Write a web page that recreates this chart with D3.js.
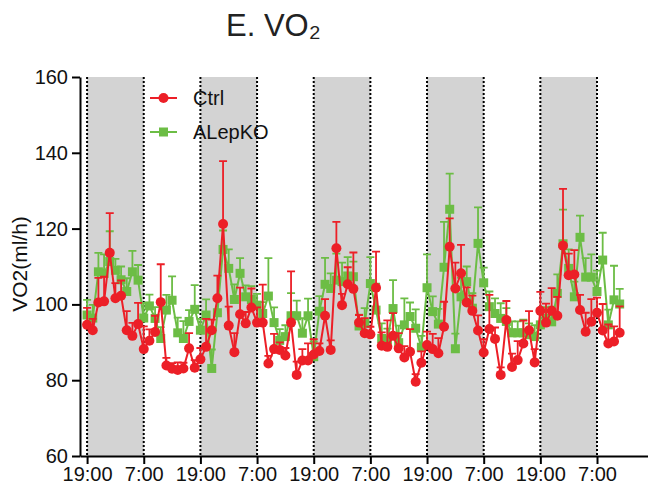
<!DOCTYPE html>
<html>
<head>
<meta charset="utf-8">
<script src="https://cdn.jsdelivr.net/npm/d3@7"></script>
<style>
  body { margin: 0; background: #fff; }
  svg { display: block; font-family: "Liberation Sans", Arial, sans-serif; }
</style>
</head>
<body>
<div id="chart"></div>
<script>
// samples every 1.2 h, index 0 = first 19:00
const ctrlMean = [94.6, 93.2, 100.5, 100.8, 113.6, 101.6, 102.3, 93.2, 91.7, 94.8,
  88.2, 90.4, 92.7, 100.6, 83.9, 83.0, 82.7, 83.1, 88.4, 83.3,
  85.5, 88.8, 93.2, 101.6, 121.2, 94.4, 87.4, 97.4, 95.0, 99.2,
  95.2, 95.2, 84.4, 88.2, 88.0, 86.5, 95.2, 81.4, 85.2, 85.2,
  86.8, 87.7, 97.0, 88.0, 114.8, 99.8, 105.3, 104.1, 95.2, 92.4,
  92.1, 104.4, 89.1, 88.8, 91.7, 88.4, 86.0, 87.5, 79.6, 84.6,
  89.3, 88.2, 87.1, 94.1, 115.2, 104.2, 108.2, 100.5, 98.3, 93.1,
  87.3, 93.5, 90.9, 81.4, 95.9, 83.5, 85.3, 89.7, 93.2, 84.7,
  98.3, 95.2, 98.3, 97.0, 115.5, 107.7, 107.9, 98.5, 92.8, 95.4,
  97.8, 93.1, 89.7, 90.2, 92.5];
const ctrlErr = [4.5, 3, 6.5, 6.5, 10.5, 4, 4, 5, 3.4, 5.6,
  6, 3, 4.3, 10, 2, 1.5, 2, 1.5, 4, 2,
  3, 7.4, 2.8, 6, 16.6, 5, 5, 7, 3, 5,
  4, 10, 2, 4, 2, 2, 13.5, 3.5, 3, 4.5,
  4, 2, 4.4, 2.5, 7, 3, 4.5, 9.6, 2, 4,
  2, 9.5, 3.5, 7, 6, 4, 3, 6, 2, 3,
  3.5, 4, 4, 6.6, 7.5, 6.8, 7.5, 4, 4, 4,
  3.5, 9, 3, 2, 5, 3.5, 5, 6, 5, 3.5,
  5, 5, 6, 5, 15, 5.7, 6.4, 4, 5, 6,
  4, 7, 5, 4, 7];
const koMean = [97.2, 96.4, 108.6, 108.2, 111.3, 109.0, 106.5, 103.4, 108.6, 106.4,
  96.4, 99.6, 96.3, 91.0, 98.5, 101.1, 92.5, 91.0, 95.5, 98.7,
  93.2, 97.2, 83.1, 97.8, 114.5, 109.5, 101.3, 108.2, 102.0, 101.3,
  99.8, 97.6, 102.2, 95.2, 90.5, 91.5, 97.0, 97.0, 92.4, 97.0,
  86.2, 98.2, 105.3, 104.2, 106.4, 106.0, 107.5, 107.3, 94.3, 95.0,
  105.5, 98.5, 91.0, 90.6, 98.9, 89.9, 94.6, 96.8, 93.7, 88.7,
  104.4, 98.1, 94.8, 109.8, 125.1, 88.3, 102, 106, 99, 116.1,
  105.7, 99.4, 97.6, 96.3, 95.5, 92.5, 92.5, 92.5, 92, 91.5,
  94.6, 96.3, 95.4, 102.9, 116, 109.5, 102, 117.7, 107.2, 107.2,
  103.4, 111.7, 94.6, 101.2, 100.1];
const koErr = [4, 3.5, 5, 5, 8, 3, 3.5, 3.5, 5.5, 4,
  4, 3, 3, 3, 4, 6.3, 4, 4.6, 3, 6.4,
  3, 4.1, 5, 4, 5, 5, 4, 4, 3, 3.5,
  3, 3, 10, 4, 3, 3, 6, 4, 4, 4.5,
  4, 4, 7, 4, 7, 5, 5, 4, 3, 4,
  7, 7, 4, 3, 7.5, 4.5, 7, 3.7, 5, 3,
  8.8, 4, 4, 12, 9.4, 4, 5, 4, 4, 9.5,
  4, 4, 4, 4, 3.5, 3, 3, 3.5, 3, 3,
  4, 3, 4, 5, 9, 5, 4, 5.7, 5, 6,
  5.5, 7.2, 4, 9, 4];

const tickIdx = [0, 10, 20, 30, 40, 50, 60, 70, 80, 90];
const tickLabels = ["19:00", "7:00", "19:00", "7:00", "19:00", "7:00", "19:00", "7:00", "19:00", "7:00"];
const darkPhases = [[0, 10], [20, 30], [40, 50], [60, 70], [80, 90]];
const yTicks = [60, 80, 100, 120, 140, 160];

const RED = "#ec1f27", GREEN = "#6cbd45";

const W = 648, H = 489;
const svg = d3.select("#chart").append("svg")
    .attr("width", W).attr("height", H);

const x = d3.scaleLinear().domain([-1.25, 99]).range([80, 648]);
const y = d3.scaleLinear().domain([60, 160]).range([456, 77]);

// dark phase shading
svg.selectAll(".dark")
    .data(darkPhases)
    .join("rect")
    .attr("class", "dark")
    .attr("x", d => x(d[0]))
    .attr("y", y(160))
    .attr("width", d => x(d[1]) - x(d[0]))
    .attr("height", y(60) - y(160))
    .attr("fill", "#d3d3d3");

// dotted boundaries
svg.selectAll(".bound")
    .data(tickIdx)
    .join("line")
    .attr("class", "bound")
    .attr("x1", d => x(d)).attr("x2", d => x(d))
    .attr("y1", y(160)).attr("y2", y(60))
    .attr("stroke", "#000")
    .attr("stroke-width", 2)
    .attr("stroke-dasharray", "2,2");

// axes
const yAxis = svg.append("g")
    .attr("transform", `translate(${x(-1.25)},0)`)
    .call(d3.axisLeft(y).tickValues(yTicks).tickSize(8).tickSizeOuter(0).tickPadding(4));

const xAxis = svg.append("g")
    .attr("transform", `translate(0,${y(60)})`)
    .call(d3.axisBottom(x).tickValues(tickIdx).tickSize(8).tickSizeOuter(0).tickPadding(3)
        .tickFormat((d, i) => tickLabels[i]));

[xAxis, yAxis].forEach(a => {
    a.select(".domain").attr("stroke", "#000").attr("stroke-width", 2);
    a.selectAll(".tick line").attr("stroke", "#000").attr("stroke-width", 2);
    a.selectAll(".tick text")
        .attr("fill", "#111")
        .style("font-family", "'Liberation Sans', Arial, sans-serif")
        .style("font-size", "20px");
});

// y label
svg.append("text")
    .attr("transform", `translate(27,264) rotate(-90)`)
    .attr("text-anchor", "middle")
    .attr("font-size", "21px")
    .attr("fill", "#111")
    .text("VO2(ml/h)");

// title
svg.append("text")
    .attr("x", 226).attr("y", 36)
    .attr("font-size", "31px")
    .attr("fill", "#222")
    .text("E. VO₂");

function drawSeries(mean, err, color, shape) {
    const g = svg.append("g");
    const pts = mean.map((m, i) => ({ i, m, e: err[i] }));

    // error bars (upper only)
    g.selectAll(".eb")
        .data(pts)
        .join("path")
        .attr("d", d => {
            const cx = x(d.i), y0 = y(d.m), y1 = y(d.m + d.e);
            return `M${cx},${y0}V${y1}M${cx - 4},${y1}H${cx + 4}`;
        })
        .attr("stroke", color)
        .attr("stroke-width", 1.8)
        .attr("fill", "none");

    g.append("path")
        .datum(pts)
        .attr("d", d3.line().x(d => x(d.i)).y(d => y(d.m)))
        .attr("stroke", color)
        .attr("stroke-width", 2)
        .attr("fill", "none");

    if (shape === "circle") {
        g.selectAll(".mk")
            .data(pts)
            .join("circle")
            .attr("cx", d => x(d.i)).attr("cy", d => y(d.m))
            .attr("r", 5)
            .attr("fill", color);
    } else {
        g.selectAll(".mk")
            .data(pts)
            .join("rect")
            .attr("x", d => x(d.i) - 4.5).attr("y", d => y(d.m) - 4.5)
            .attr("width", 9).attr("height", 9)
            .attr("fill", color);
    }
}

drawSeries(koMean, koErr, GREEN, "square");
drawSeries(ctrlMean, ctrlErr, RED, "circle");

// legend
const legend = svg.append("g");
const items = [
    { name: "Ctrl", color: RED, shape: "circle", y: 98 },
    { name: "ALepKO", color: GREEN, shape: "square", y: 132 }
];
items.forEach(it => {
    legend.append("line")
        .attr("x1", 150).attr("x2", 177)
        .attr("y1", it.y).attr("y2", it.y)
        .attr("stroke", it.color).attr("stroke-width", 2);
    if (it.shape === "circle") {
        legend.append("circle").attr("cx", 163.5).attr("cy", it.y).attr("r", 5).attr("fill", it.color);
    } else {
        legend.append("rect").attr("x", 159).attr("y", it.y - 4.5).attr("width", 9).attr("height", 9).attr("fill", it.color);
    }
    legend.append("text")
        .attr("x", 193).attr("y", it.y + 7)
        .attr("font-size", "20px")
        .attr("fill", "#111")
        .text(it.name);
});
</script>
</body>
</html>
